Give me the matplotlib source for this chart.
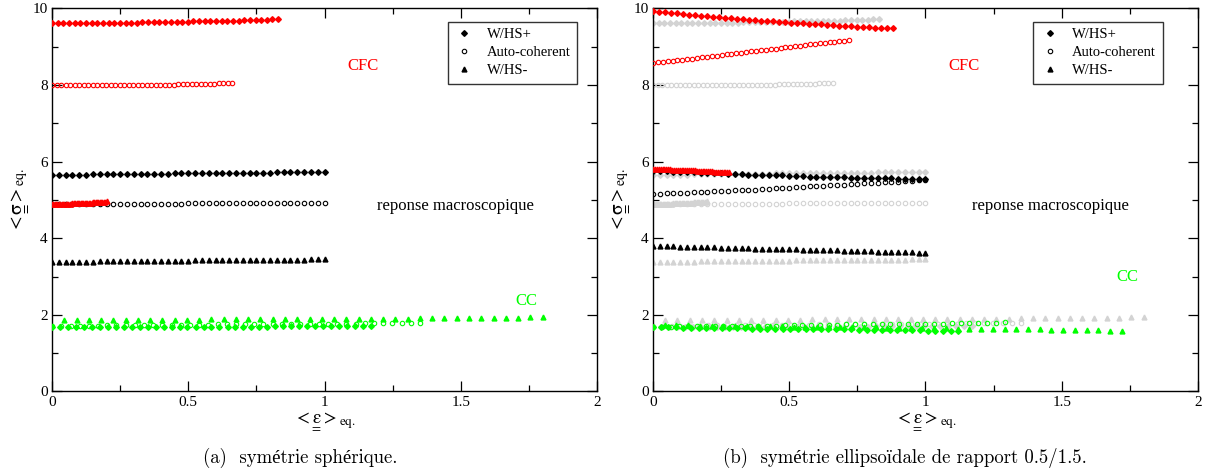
import matplotlib
matplotlib.use("Agg")
import matplotlib.pyplot as plt
from matplotlib.lines import Line2D
from matplotlib.ticker import MultipleLocator

plt.rcParams["font.family"] = ["Liberation Serif", "DejaVu Serif"]
plt.rcParams["mathtext.fontset"] = "stix"

# ---------------- (a) symetrie spherique ----------------
# CFC (red)
xa_red_plus = [0, 0.021, 0.042, 0.062, 0.083, 0.104, 0.125, 0.145, 0.166, 0.187, 0.208,
               0.228, 0.249, 0.270, 0.291, 0.311, 0.332, 0.353, 0.374, 0.394, 0.415,
               0.436, 0.457, 0.477, 0.498, 0.519, 0.540, 0.560, 0.581, 0.602, 0.623,
               0.643, 0.664, 0.685, 0.706, 0.726, 0.747, 0.768, 0.789, 0.809, 0.830]
ya_red_plus = [9.61, 9.61, 9.61, 9.61, 9.62, 9.62, 9.62, 9.62, 9.62, 9.62,
               9.63, 9.63, 9.63, 9.63, 9.63, 9.63, 9.64, 9.64, 9.64, 9.64, 9.64,
               9.65, 9.65, 9.65, 9.65, 9.66, 9.66, 9.66, 9.66, 9.67, 9.67, 9.67,
               9.68, 9.68, 9.69, 9.69, 9.70, 9.70, 9.71, 9.72, 9.73]
xa_red_circ = [0, 0.017, 0.033, 0.050, 0.066, 0.083, 0.099, 0.116, 0.132, 0.149, 0.165,
               0.182, 0.198, 0.215, 0.231, 0.248, 0.264, 0.281, 0.297, 0.314, 0.330,
               0.347, 0.363, 0.380, 0.396, 0.413, 0.429, 0.446, 0.462, 0.479, 0.495,
               0.512, 0.528, 0.545, 0.561, 0.578, 0.594, 0.611, 0.627, 0.644, 0.660]
ya_red_circ = [7.99] * 10 + [8.00] * 10 + [8.01] * 8 + [8.02] * 5 + [8.03] * 4 + [8.04] * 3 + [8.05]
xa_red_tri = [0, 0.005, 0.01, 0.015, 0.02, 0.025, 0.03, 0.035, 0.04, 0.045, 0.05,
              0.055, 0.06, 0.065, 0.07, 0.075, 0.08, 0.085, 0.09, 0.095, 0.1,
              0.105, 0.11, 0.115, 0.12, 0.125, 0.13, 0.135, 0.14, 0.145, 0.15,
              0.155, 0.16, 0.165, 0.17, 0.175, 0.18, 0.185, 0.19, 0.195, 0.2]
ya_red_tri = ([4.88] * 5 + [4.89] * 5 + [4.90] * 5 + [4.91] * 5 + [4.92] * 5
              + [4.93] * 5 + [4.94] * 5 + [4.95] * 5 + [4.96])

# reponse macroscopique (black), shared x for both panels
x_black = [0, 0.025, 0.05, 0.075, 0.1, 0.125, 0.15, 0.175, 0.2, 0.225, 0.25,
           0.275, 0.3, 0.325, 0.35, 0.375, 0.4, 0.425, 0.45, 0.475, 0.5,
           0.525, 0.55, 0.575, 0.6, 0.625, 0.65, 0.675, 0.7, 0.725, 0.75,
           0.775, 0.8, 0.825, 0.85, 0.875, 0.9, 0.925, 0.95, 0.975, 1.0]
ya_black_plus = ([5.66] * 6 + [5.67] * 6 + [5.68] * 6 + [5.69] * 6 + [5.70] * 5
                 + [5.71] * 4 + [5.72] * 4 + [5.73] * 3 + [5.74])
ya_black_circ = [4.89] * 10 + [4.90] * 10 + [4.91] * 9 + [4.92] * 8 + [4.93] * 4
ya_black_tri = ([3.39] * 7 + [3.40] * 7 + [3.41] * 7 + [3.42] * 6 + [3.43] * 6
                + [3.44] * 5 + [3.45] * 3)

# CC (green)
xa_green_plus = [0, 0.029, 0.059, 0.088, 0.117, 0.146, 0.176, 0.205, 0.234, 0.263, 0.293,
                 0.322, 0.351, 0.380, 0.410, 0.439, 0.468, 0.497, 0.527, 0.556, 0.585,
                 0.614, 0.644, 0.673, 0.702, 0.731, 0.761, 0.790, 0.819, 0.848, 0.878,
                 0.907, 0.936, 0.965, 0.995, 1.024, 1.053, 1.082, 1.112, 1.141, 1.170]
ya_green_plus = [1.68] * 14 + [1.69] * 14 + [1.70] * 13
xa_green_circ = [0, 0.034, 0.068, 0.101, 0.135, 0.169, 0.203, 0.236, 0.270, 0.304, 0.338,
                 0.371, 0.405, 0.439, 0.473, 0.506, 0.540, 0.574, 0.608, 0.641, 0.675,
                 0.709, 0.743, 0.776, 0.810, 0.844, 0.878, 0.911, 0.945, 0.979, 1.013,
                 1.046, 1.080, 1.114, 1.148, 1.181, 1.215, 1.249, 1.283, 1.316, 1.350]
ya_green_circ = ([1.72] * 6 + [1.73] * 6 + [1.74] * 6 + [1.75] * 6 + [1.76] * 5
                 + [1.77] * 5 + [1.78] * 4 + [1.79] * 3)
xa_green_tri = [0.045, 0.09, 0.135, 0.18, 0.225, 0.27, 0.315, 0.36, 0.405, 0.45,
                0.495, 0.54, 0.585, 0.63, 0.675, 0.72, 0.765, 0.81, 0.855, 0.9,
                0.945, 0.99, 1.035, 1.08, 1.125, 1.17, 1.215, 1.26, 1.305, 1.35,
                1.395, 1.44, 1.485, 1.53, 1.575, 1.62, 1.665, 1.71, 1.755, 1.8]
ya_green_tri = ([1.86] * 6 + [1.87] * 6 + [1.88] * 6 + [1.89] * 6 + [1.90] * 5
                + [1.91] * 5 + [1.92] * 4 + [1.93] * 2)

# ---------------- (b) symetrie ellipsoidale 0.5/1.5 ----------------
xb_red_plus = [0, 0.022, 0.044, 0.066, 0.088, 0.11, 0.132, 0.154, 0.176, 0.198, 0.22,
               0.242, 0.264, 0.286, 0.308, 0.33, 0.352, 0.374, 0.396, 0.418, 0.44,
               0.462, 0.484, 0.506, 0.528, 0.55, 0.572, 0.594, 0.616, 0.638, 0.66,
               0.682, 0.704, 0.726, 0.748, 0.77, 0.792, 0.814, 0.836, 0.858, 0.88]
yb_red_plus = [9.93, 9.91, 9.90, 9.88, 9.87, 9.85, 9.84, 9.82, 9.81, 9.80, 9.78,
               9.77, 9.76, 9.74, 9.73, 9.72, 9.71, 9.69, 9.68, 9.67, 9.66,
               9.65, 9.64, 9.63, 9.62, 9.61, 9.60, 9.59, 9.58, 9.57, 9.56,
               9.55, 9.54, 9.53, 9.52, 9.52, 9.51, 9.50, 9.49, 9.49, 9.48]
xb_red_circ = [0, 0.018, 0.036, 0.054, 0.072, 0.09, 0.108, 0.126, 0.144, 0.162, 0.18,
               0.198, 0.216, 0.234, 0.252, 0.27, 0.288, 0.306, 0.324, 0.342, 0.36,
               0.378, 0.396, 0.414, 0.432, 0.45, 0.468, 0.486, 0.504, 0.522, 0.54,
               0.558, 0.576, 0.594, 0.612, 0.63, 0.648, 0.666, 0.684, 0.702, 0.72]
yb_red_circ = [8.57, 8.59, 8.60, 8.62, 8.63, 8.65, 8.66, 8.68, 8.69, 8.71, 8.72,
               8.74, 8.75, 8.77, 8.78, 8.80, 8.81, 8.83, 8.84, 8.86, 8.88,
               8.89, 8.91, 8.92, 8.94, 8.95, 8.97, 8.98, 9.00, 9.01, 9.03,
               9.04, 9.06, 9.07, 9.09, 9.10, 9.12, 9.13, 9.15, 9.16, 9.18]
xb_red_tri = [0, 0.007, 0.014, 0.021, 0.028, 0.035, 0.042, 0.049, 0.056, 0.063, 0.07,
              0.077, 0.084, 0.091, 0.098, 0.105, 0.112, 0.119, 0.126, 0.133, 0.14,
              0.147, 0.154, 0.161, 0.168, 0.175, 0.182, 0.189, 0.196, 0.203, 0.21,
              0.217, 0.224, 0.231, 0.238, 0.245, 0.252, 0.259, 0.266, 0.273, 0.28]
yb_red_tri = ([5.81] * 5 + [5.80] * 5 + [5.79] * 4 + [5.78] * 5 + [5.77] * 4
              + [5.76] * 5 + [5.75] * 4 + [5.74] * 4 + [5.73] * 4 + [5.72])

yb_black_plus = [5.76, 5.75, 5.75, 5.74, 5.73, 5.72, 5.72, 5.71, 5.70, 5.70, 5.69,
                 5.68, 5.68, 5.67, 5.66, 5.66, 5.65, 5.65, 5.64, 5.64, 5.63,
                 5.62, 5.62, 5.61, 5.61, 5.60, 5.60, 5.59, 5.59, 5.58, 5.58,
                 5.58, 5.57, 5.57, 5.56, 5.56, 5.55, 5.55, 5.55, 5.54, 5.54]
yb_black_circ = [5.15, 5.16, 5.17, 5.17, 5.18, 5.19, 5.20, 5.21, 5.21, 5.22, 5.23,
                 5.24, 5.25, 5.26, 5.27, 5.27, 5.28, 5.29, 5.30, 5.31, 5.32,
                 5.33, 5.34, 5.35, 5.36, 5.37, 5.38, 5.39, 5.40, 5.41, 5.42,
                 5.43, 5.44, 5.45, 5.46, 5.47, 5.48, 5.49, 5.50, 5.51, 5.52]
yb_black_tri = [3.80, 3.80, 3.79, 3.79, 3.78, 3.78, 3.77, 3.77, 3.76, 3.76, 3.75,
                3.75, 3.75, 3.74, 3.74, 3.73, 3.73, 3.72, 3.72, 3.71, 3.71,
                3.71, 3.70, 3.70, 3.69, 3.69, 3.68, 3.68, 3.67, 3.67, 3.66,
                3.66, 3.66, 3.65, 3.65, 3.64, 3.64, 3.63, 3.63, 3.62, 3.62]

xb_green_plus = [0, 0.028, 0.056, 0.084, 0.112, 0.14, 0.168, 0.196, 0.224, 0.252, 0.28,
                 0.308, 0.336, 0.364, 0.392, 0.42, 0.448, 0.476, 0.504, 0.532, 0.56,
                 0.588, 0.616, 0.644, 0.672, 0.7, 0.728, 0.756, 0.784, 0.812, 0.84,
                 0.868, 0.896, 0.924, 0.952, 0.98, 1.008, 1.036, 1.064, 1.092, 1.12]
yb_green_plus = ([1.67] * 4 + [1.66] * 5 + [1.65] * 4 + [1.64] * 5 + [1.63] * 4
                 + [1.62] * 5 + [1.61] * 4 + [1.60] * 5 + [1.59] * 4 + [1.58])
xb_green_circ = [0, 0.032, 0.065, 0.097, 0.129, 0.161, 0.194, 0.226, 0.258, 0.290, 0.323,
                 0.355, 0.387, 0.419, 0.452, 0.484, 0.516, 0.548, 0.581, 0.613, 0.645,
                 0.677, 0.710, 0.742, 0.774, 0.806, 0.839, 0.871, 0.903, 0.935, 0.968,
                 1.000, 1.032, 1.064, 1.097, 1.129, 1.161, 1.193, 1.226, 1.258, 1.290]
yb_green_circ = ([1.69] * 3 + [1.70] * 4 + [1.71] * 4 + [1.72] * 4 + [1.73] * 4
                 + [1.74] * 3 + [1.75] * 4 + [1.76] * 4 + [1.77] * 4 + [1.78] * 3
                 + [1.79] * 3 + [1.80])
xb_green_tri = [0.043, 0.086, 0.129, 0.172, 0.215, 0.258, 0.301, 0.344, 0.387, 0.43,
                0.473, 0.516, 0.559, 0.602, 0.645, 0.688, 0.731, 0.774, 0.817, 0.86,
                0.903, 0.946, 0.989, 1.032, 1.075, 1.118, 1.161, 1.204, 1.247, 1.29,
                1.333, 1.376, 1.419, 1.462, 1.505, 1.548, 1.591, 1.634, 1.677, 1.72]
yb_green_tri = ([1.73] * 3 + [1.72] * 3 + [1.71] * 3 + [1.70] * 2 + [1.69] * 3
                + [1.68] * 3 + [1.67] * 2 + [1.66] * 3 + [1.65] * 3 + [1.64] * 2
                + [1.63] * 3 + [1.62] * 3 + [1.61] * 2 + [1.60] * 3 + [1.59] + [1.58])

legend_labels = ["W/HS+", "Auto-coherent", "W/HS-"]
GRAY = "#d3d3d3"
GREEN = "#00ff00"


def draw_set(ax, plus, circ, tri, color, z):
    ax.plot(*plus, ls="none", marker="D", ms=2.9, color=color, mec=color, zorder=z)
    ax.plot(*circ, ls="none", marker="o", ms=3.2, mfc="none", mec=color, mew=0.8, zorder=z)
    ax.plot(*tri, ls="none", marker="^", ms=3.5, color=color, mec=color, zorder=z)


def panel_a_sets():
    return [
        ((xa_green_plus, ya_green_plus), (xa_green_circ, ya_green_circ), (xa_green_tri, ya_green_tri), GREEN),
        ((x_black, ya_black_plus), (x_black, ya_black_circ), (x_black, ya_black_tri), "black"),
        ((xa_red_plus, ya_red_plus), (xa_red_circ, ya_red_circ), (xa_red_tri, ya_red_tri), "red"),
    ]


def panel_b_sets():
    return [
        ((xb_green_plus, yb_green_plus), (xb_green_circ, yb_green_circ), (xb_green_tri, yb_green_tri), GREEN),
        ((x_black, yb_black_plus), (x_black, yb_black_circ), (x_black, yb_black_tri), "black"),
        ((xb_red_plus, yb_red_plus), (xb_red_circ, yb_red_circ), (xb_red_tri, yb_red_tri), "red"),
    ]


def style_axes(ax, legend_x):
    ax.set_xlim(0, 2)
    ax.set_ylim(0, 10)
    ax.xaxis.set_major_locator(MultipleLocator(0.5))
    ax.xaxis.set_minor_locator(MultipleLocator(0.25))
    ax.yaxis.set_major_locator(MultipleLocator(2))
    ax.yaxis.set_minor_locator(MultipleLocator(1))
    ax.xaxis.set_major_formatter(plt.FuncFormatter(lambda v, p: "%g" % v))
    ax.yaxis.set_major_formatter(plt.FuncFormatter(lambda v, p: "%g" % v))
    ax.tick_params(which="both", direction="in", top=True, right=True, width=0.9,
                   labelsize=11, pad=3)
    ax.tick_params(which="major", length=7)
    ax.tick_params(which="minor", length=4)
    for s in ax.spines.values():
        s.set_linewidth(1.0)
    ax.set_xlabel(r"$<\!\underset{=}{\mathrm{\varepsilon}}\!>_{\mathrm{eq.}}$", fontsize=13.5, labelpad=1)
    ax.set_ylabel(r"$<\!\underset{=}{\mathrm{\sigma}}\!>_{\mathrm{eq.}}$", fontsize=14, labelpad=2)

    handles = [
        Line2D([], [], ls="none", marker="D", ms=2.9, color="black"),
        Line2D([], [], ls="none", marker="o", ms=3.2, mfc="none", mec="black", mew=0.8),
        Line2D([], [], ls="none", marker="^", ms=3.5, color="black"),
    ]
    leg = ax.legend(handles, legend_labels, loc="upper right", bbox_to_anchor=(legend_x, 0.977),
                    fontsize=10.5, frameon=True, fancybox=False, handlelength=1.3,
                    handletextpad=0.9, borderpad=0.45, labelspacing=0.32, borderaxespad=0.3)
    leg.get_frame().set_edgecolor("black")
    leg.get_frame().set_linewidth(1.0)


def main():
    fig = plt.figure(figsize=(12.18, 4.75), dpi=100)
    ax_a = fig.add_axes([0.0427, 0.176, 0.4475, 0.8063])
    ax_b = fig.add_axes([0.5361, 0.176, 0.4475, 0.8063])

    for plus, circ, tri, color in panel_a_sets():
        draw_set(ax_a, plus, circ, tri, color, 3)

    # right panel: the spherical case in gray behind
    for plus, circ, tri, color in panel_a_sets():
        draw_set(ax_b, plus, circ, tri, GRAY, 2)
    for plus, circ, tri, color in panel_b_sets():
        draw_set(ax_b, plus, circ, tri, color, 3)

    style_axes(ax_a, 0.972)
    style_axes(ax_b, 0.943)

    ax_a.text(1.14, 8.5, "CFC", color="red", fontsize=12, ha="center", va="center")
    ax_a.text(1.48, 4.85, "reponse macroscopique", fontsize=12, ha="center", va="center")
    ax_a.text(1.74, 2.37, "CC", color=GREEN, fontsize=12, ha="center", va="center")
    ax_b.text(1.14, 8.5, "CFC", color="red", fontsize=12, ha="center", va="center")
    ax_b.text(1.46, 4.85, "reponse macroscopique", fontsize=12, ha="center", va="center")
    ax_b.text(1.74, 3.0, "CC", color=GREEN, fontsize=12, ha="center", va="center")

    cap_font = ["cmr10", "Liberation Serif"]
    fig.text(0.2465, 0.036, "(a)  symétrie sphérique.", family=cap_font, fontsize=13.5,
             ha="center", va="center")
    fig.text(0.743, 0.036, "(b)  symétrie ellipsoïdale de rapport 0.5/1.5.", family=cap_font,
             fontsize=13.5, ha="center", va="center")

    fig.savefig("out.png", dpi=100)


if __name__ == "__main__":
    main()
